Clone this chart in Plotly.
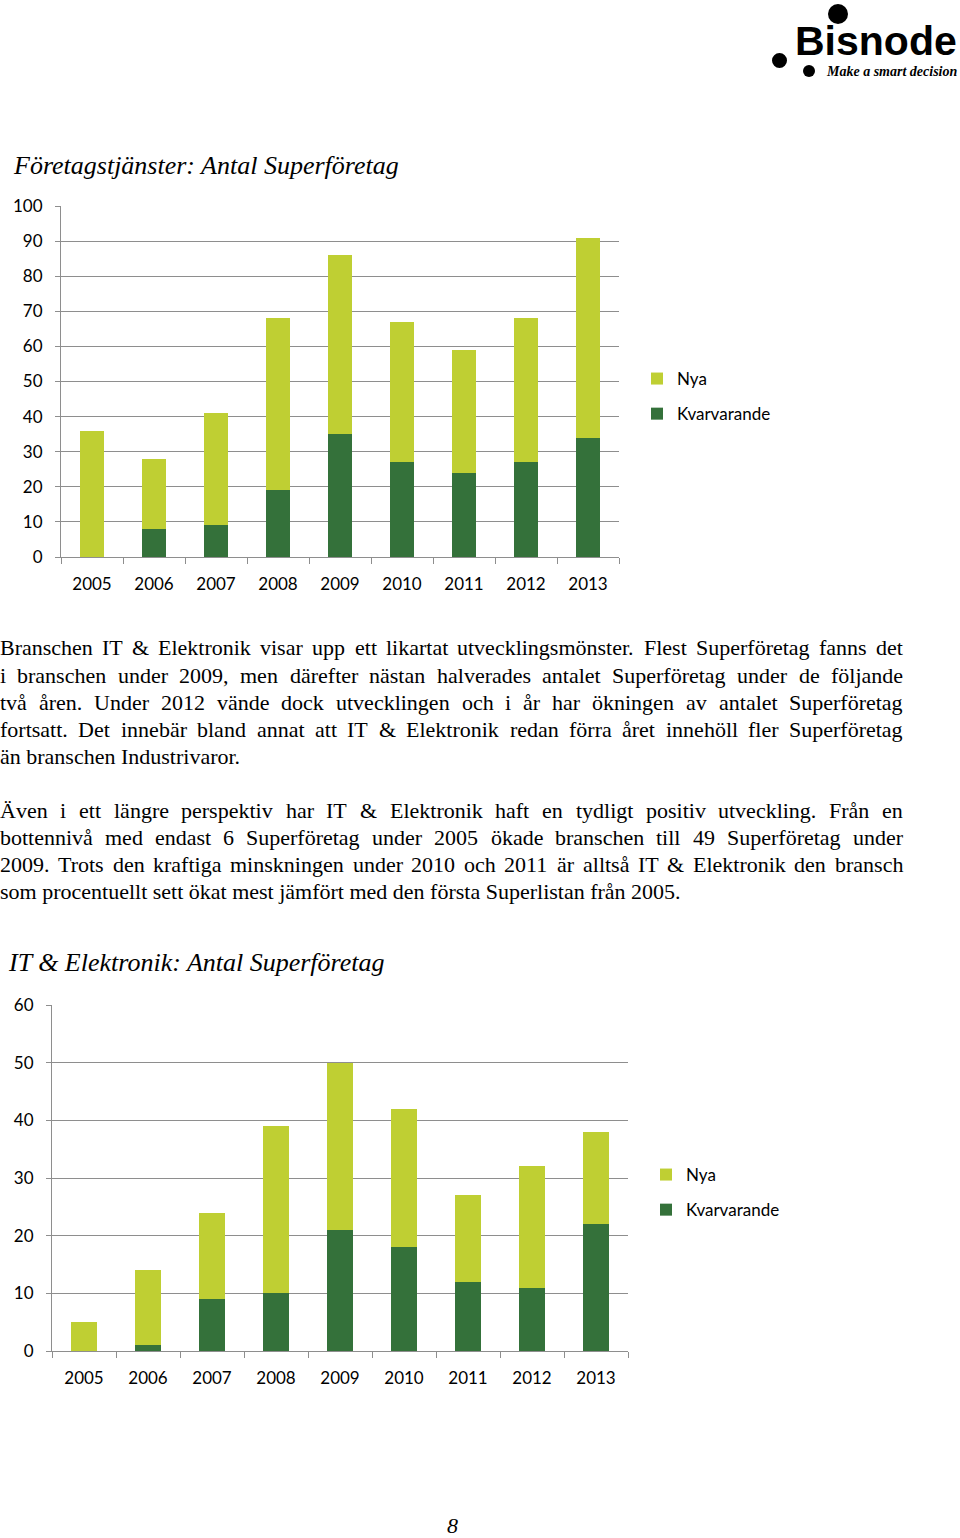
import plotly.graph_objects as go

# ---------------- data ----------------
years = ["2005", "2006", "2007", "2008", "2009", "2010", "2011", "2012", "2013"]
fts_kvarvarande = [0, 8, 9, 19, 35, 27, 24, 27, 34]
fts_nya = [36, 20, 32, 49, 51, 40, 35, 41, 57]
it_kvarvarande = [0, 1, 9, 10, 21, 18, 12, 11, 22]
it_nya = [5, 13, 15, 29, 29, 24, 15, 21, 16]
y1_ticks = [0, 10, 20, 30, 40, 50, 60, 70, 80, 90, 100]
y2_ticks = [0, 10, 20, 30, 40, 50, 60]

title1 = "Företagstjänster: Antal Superföretag"
title2 = "IT &amp; Elektronik: Antal Superföretag"

para1 = [
    "Branschen IT & Elektronik visar upp ett likartat utvecklingsmönster. Flest Superföretag fanns det",
    "i branschen under 2009, men därefter nästan halverades antalet Superföretag under de följande",
    "två åren. Under 2012 vände dock utvecklingen och i år har ökningen av antalet Superföretag",
    "fortsatt. Det innebär bland annat att IT & Elektronik redan förra året innehöll fler Superföretag",
    "än branschen Industrivaror.",
]
para2 = [
    "Även i ett längre perspektiv har IT & Elektronik haft en tydligt positiv utveckling. Från en",
    "bottennivå med endast 6 Superföretag under 2005 ökade branschen till 49 Superföretag under",
    "2009. Trots den kraftiga minskningen under 2010 och 2011 är alltså IT & Elektronik den bransch",
    "som procentuellt sett ökat mest jämfört med den första Superlistan från 2005.",
]

# ---------------- style ----------------
LIGHT = "#BFCF33"
DARK = "#34713A"
GRID = "#8E8E8E"
W, H = 960, 1538
SANS = "Lato"
SERIF = "Liberation Serif"


def X(px):
    return px / W


def Y(py):
    return 1 - py / H


# Times / Liberation Serif advance widths (per 1000 em)
TW = {" ": 250, ".": 250, ",": 250, ":": 278, "&": 778, "-": 333}
for c in "0123456789":
    TW[c] = 500
TW.update(dict(A=722, B=667, C=667, D=722, E=611, F=556, G=722, H=722, I=333, J=389,
               K=722, L=611, M=889, N=722, O=722, P=556, Q=722, R=667, S=556, T=611,
               U=722, V=722, W=944, X=722, Y=722, Z=611))
TW.update(dict(a=444, b=500, c=444, d=500, e=444, f=333, g=500, h=500, i=278, j=278,
               k=500, l=278, m=778, n=500, o=500, p=500, q=500, r=333, s=389, t=278,
               u=500, v=500, w=722, x=500, y=500, z=444))
TW.update({"å": 444, "ä": 444, "ö": 500, "Ä": 722, "Å": 722, "Ö": 722})


def text_w(s, size):
    return sum(TW.get(c, 500) for c in s) * size / 1000.0


annotations = []


def ann(text, x_px, y_px, size, family, xanchor="left", color="#000000"):
    annotations.append(dict(
        text=text.replace("&", "&amp;"),
        x=X(x_px), y=Y(y_px), xref="paper", yref="paper",
        xanchor=xanchor, yanchor="middle", showarrow=False,
        borderpad=0, borderwidth=0,
        font=dict(family=family, size=size, color=color),
    ))


BODY = 22
LEFT, RIGHT = 0, 903


def add_line(text, y_px, justify):
    words = text.split(" ")
    if not justify or len(words) < 2:
        ann(text, LEFT, y_px, BODY, SERIF)
        return
    widths = [text_w(w, BODY) for w in words]
    gap = (RIGHT - LEFT - sum(widths)) / (len(words) - 1)
    x = LEFT
    for w, wd in zip(words, widths):
        ann(w, x, y_px, BODY, SERIF)
        x += wd + gap


for i, line in enumerate(para1):
    add_line(line, 648 + 27 * i, i < len(para1) - 1)
for i, line in enumerate(para2):
    add_line(line, 810 + 27 * i, i < len(para2) - 1)


def free_text(text, x_px, y_px, size, family, xanchor):
    annotations.append(dict(text=text, x=X(x_px), y=Y(y_px), xref="paper", yref="paper",
                            xanchor=xanchor, yanchor="middle", showarrow=False,
                            borderpad=0, font=dict(family=family, size=size, color="#000")))


free_text("<i>" + title1 + "</i>", 12, 165, 26, SERIF, "left")
free_text("<i>" + title2 + "</i>", 7, 962, 26, SERIF, "left")
free_text("<b>Bisnode</b>", 958, 41, 41, "Liberation Sans", "right")
free_text("<b><i>Make a smart decision</i></b>", 958, 72, 14, SERIF, "right")
free_text("<i>8</i>", 452, 1525, 22, SERIF, "center")

shapes = []
for cx, cy, r in [(838, 14, 10), (779.5, 60.5, 7.5), (809, 71, 6)]:
    shapes.append(dict(type="circle", xref="paper", yref="paper",
                       x0=X(cx - r), x1=X(cx + r), y0=Y(cy + r), y1=Y(cy - r),
                       fillcolor="#000", line=dict(width=0)))

fig = go.Figure()
fig.add_trace(go.Bar(x=years, y=fts_kvarvarande, name="Kvarvarande", marker_color=DARK,
                     xaxis="x", yaxis="y", legend="legend", legendgroup="k1", legendrank=2))
fig.add_trace(go.Bar(x=years, y=fts_nya, name="Nya", marker_color=LIGHT,
                     xaxis="x", yaxis="y", legend="legend", legendgroup="n1", legendrank=1))
fig.add_trace(go.Bar(x=years, y=it_kvarvarande, name="Kvarvarande", marker_color=DARK,
                     xaxis="x2", yaxis="y2", legend="legend2", legendgroup="k2", legendrank=2))
fig.add_trace(go.Bar(x=years, y=it_nya, name="Nya", marker_color=LIGHT,
                     xaxis="x2", yaxis="y2", legend="legend2", legendgroup="n2", legendrank=1))
fig.update_traces(marker_line_width=0, hoverinfo="skip")

tickfont = dict(family=SANS, size=17, color="#000")
xcommon = dict(type="category", showline=True, linecolor=GRID, linewidth=1,
               ticks="outside", tickson="boundaries", ticklen=6, tickcolor=GRID,
               showgrid=False, tickfont=tickfont, ticklabelstandoff=12, fixedrange=True,
               automargin=False)
ycommon = dict(showline=True, linecolor=GRID, linewidth=1, ticks="outside", ticklen=5,
               tickcolor=GRID, showgrid=True, gridcolor=GRID, gridwidth=1, zeroline=False,
               tickfont=tickfont, ticklabelstandoff=9, fixedrange=True, automargin=False)

legcommon = dict(font=dict(family=SANS, size=17, color="#000"), traceorder="grouped",
                 tracegroupgap=10, bgcolor="rgba(0,0,0,0)", xanchor="left", yanchor="top",
                 itemwidth=30, itemclick=False, itemdoubleclick=False)

fig.update_layout(
    width=W, height=H,
    margin=dict(l=0, r=0, t=0, b=0, autoexpand=False),
    paper_bgcolor="#FFFFFF", plot_bgcolor="#FFFFFF",
    barmode="stack", bargap=0.6,
    xaxis=dict(domain=[X(61), X(619)], anchor="y", **xcommon),
    yaxis=dict(domain=[Y(557), Y(206)], anchor="x", range=[0, 100], tickvals=y1_ticks, **ycommon),
    xaxis2=dict(domain=[X(52), X(628)], anchor="y2", **xcommon),
    yaxis2=dict(domain=[Y(1351), Y(1005)], anchor="x2", range=[0, 60], tickvals=y2_ticks, **ycommon),
    legend=dict(x=X(637), y=Y(361), **legcommon),
    legend2=dict(x=X(646), y=Y(1157), **legcommon),
    annotations=annotations,
    shapes=shapes,
    showlegend=True,
)

fig.write_html("out.html", config={"displayModeBar": False},
               post_script="document.body.style.margin='0';document.body.style.overflow='hidden';")
